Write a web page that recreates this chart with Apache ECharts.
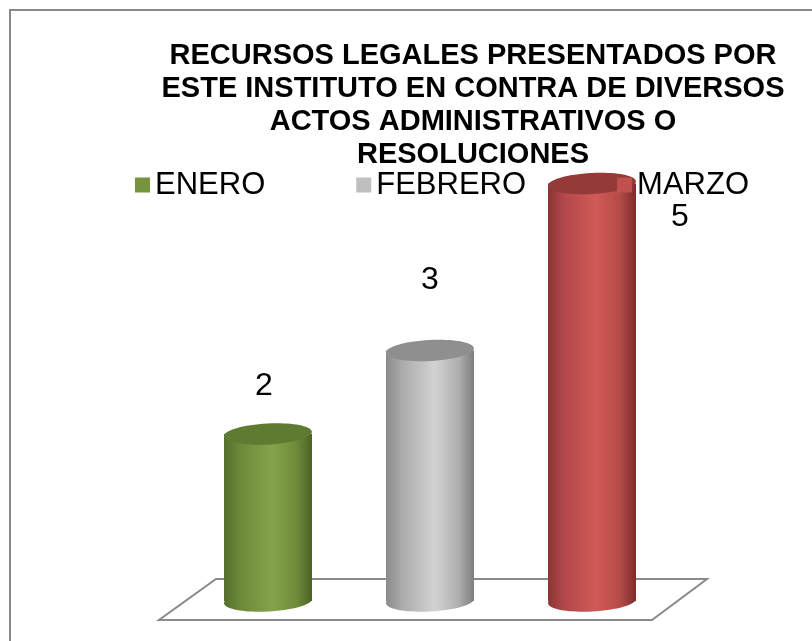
<!DOCTYPE html>
<html>
<head>
<meta charset="utf-8">
<script src="https://cdn.jsdelivr.net/npm/echarts@6/dist/echarts.min.js"></script>
<style>html,body{margin:0;padding:0;background:#fff;}#c{width:812px;height:641px;}</style>
</head>
<body>
<div id="c"></div>
<script>
// ---- data ----
const categories = ['ENERO', 'FEBRERO', 'MARZO'];
const values = [2, 3, 5];
const titleLines = ['RECURSOS LEGALES PRESENTADOS POR', 'ESTE INSTITUTO EN CONTRA DE DIVERSOS', 'ACTOS ADMINISTRATIVOS O', 'RESOLUCIONES'];

// ---- styles ----
const legendColors = ['#77933C', '#BFBFBF', '#C0504D'];
const bodyStops = [
  ['#556e2b', '#6c893a', '#85a34b', '#6f8b3b', '#4a6223'],
  ['#8a8a8a', '#ababab', '#d2d2d2', '#b0b0b0', '#7e7e7e'],
  ['#8c3432', '#b2474a', '#d05a57', '#b44a47', '#7b2d2b']
];
const topColors = ['#5f7a31', '#8f8f8f', '#943a38'];
const labelOffsets = [[-4, -48], [0, -70], [88, 34]];
const FONT = 'Arial, "Liberation Sans", sans-serif';

const chart = echarts.init(document.getElementById('c'), null, {renderer: 'canvas'});

function grad(stops) {
  return {type: 'linear', x: 0, y: 0, x2: 1, y2: 0,
    colorStops: stops.map((c, k) => ({offset: [0, 0.18, 0.55, 0.82, 1][k], color: c}))};
}

function cylinderRender(i) {
  return function (params, api) {
    const top = api.coord([api.value(0), api.value(1)]);
    const base = api.coord([api.value(0), 0]);
    const rx = 44, ry = 10.5, rot = 0.05;
    const cx = top[0];
    const g = grad(bodyStops[i]);
    return {
      type: 'group',
      children: [
        {type: 'ellipse', shape: {cx: cx, cy: base[1], rx: rx, ry: ry}, rotation: rot, originX: cx, originY: base[1], style: {fill: g}},
        {type: 'rect', shape: {x: cx - rx, y: top[1], width: rx * 2, height: base[1] - top[1]}, style: {fill: g}},
        {type: 'ellipse', shape: {cx: cx, cy: top[1], rx: rx, ry: ry}, rotation: rot, originX: cx, originY: top[1], style: {fill: topColors[i]}},
        {type: 'text', x: cx + labelOffsets[i][0], y: top[1] + labelOffsets[i][1],
          style: {text: String(api.value(1)), font: '32px ' + FONT, fill: '#000', textAlign: 'center', textVerticalAlign: 'middle'}}
      ]
    };
  };
}

const series = [{
  type: 'custom', name: 'floor', silent: true, z: 1,
  data: [[0, 0]],
  renderItem: function (params, api) {
    const a = api.coord([0, 0]);
    const b = api.coord([categories.length - 1, 0]);
    return {type: 'polygon', shape: {points: [
      [a[0] - 52, a[1] - 22], [b[0] + 115, b[1] - 22], [b[0] + 60, b[1] + 19], [a[0] - 109, a[1] + 19]
    ]}, style: {fill: '#fff', stroke: '#8a8a8a', lineWidth: 2}};
  }
}];
categories.forEach((name, i) => {
  series.push({
    type: 'custom', name: name, z: 2,
    itemStyle: {color: legendColors[i]},
    data: [[i, values[i]]],
    renderItem: cylinderRender(i)
  });
});

chart.setOption({
  animation: false,
  backgroundColor: '#fff',
  title: {
    text: titleLines.join('\n'), left: 473, top: 39, textAlign: 'center', padding: 0,
    textStyle: {fontSize: 29, fontWeight: 'bold', lineHeight: 33, color: '#000', fontFamily: FONT}
  },
  legend: {
    data: categories, left: 135, top: 169, padding: 0, itemWidth: 15, itemHeight: 15, itemGap: 91,
    icon: 'rect', selectedMode: false,
    textStyle: {fontSize: 31, color: '#000', fontFamily: FONT, lineHeight: 32}
  },
  grid: {left: 187, width: 486, top: 100, height: 501},
  xAxis: {type: 'category', data: categories, show: false},
  yAxis: {type: 'value', min: 0, max: 6, show: false},
  graphic: [{type: 'rect', shape: {x: 10, y: 10, width: 1000, height: 1000}, style: {fill: 'none', stroke: '#8a8a8a', lineWidth: 2}, z: 100}],
  series: series
});
</script>
</body>
</html>
